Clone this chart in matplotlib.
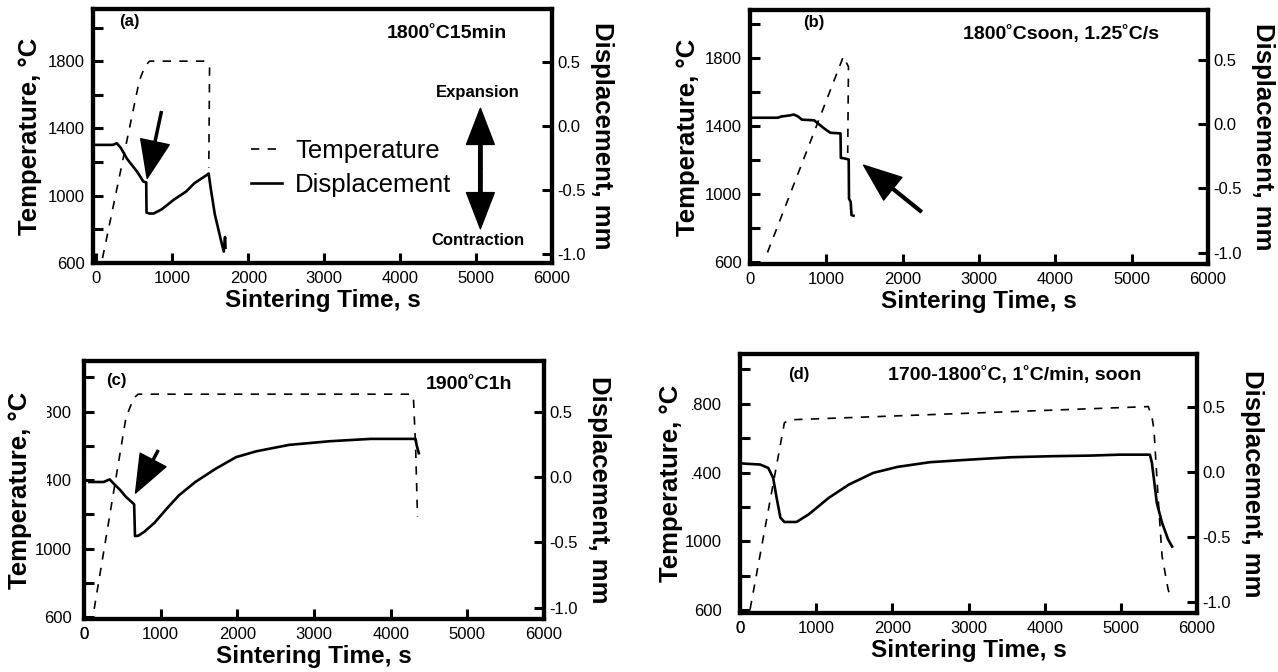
import matplotlib
matplotlib.use("Agg")
import matplotlib.pyplot as plt
from matplotlib.transforms import Bbox, TransformedBbox

plt.rcParams['font.family'] = ['Liberation Sans', 'DejaVu Sans']

## Data ##
# (a) 1800C, 15 min hold
time_a_T = [80, 565, 640, 700, 1430, 1490, 1480]
temp_a = [629, 1684, 1770, 1800, 1800, 1760, 1165]
time_a_D = [-40, 215, 269, 323, 403, 538, 618, 656, 660, 700, 753, 860, 1022, 1183,
            1290, 1452, 1478, 1505, 1559, 1640, 1677, 1694, 1700]
disp_a = [-0.146, -0.146, -0.133, -0.171, -0.255, -0.357, -0.433, -0.439, -0.676, -0.683,
          -0.683, -0.65, -0.574, -0.51, -0.446, -0.382, -0.37, -0.484, -0.688, -0.892,
          -0.981, -0.867, -0.95]

# (b) 1800C, no hold, 1.25 C/s
time_b_T = [229, 1223, 1290, 1280]
temp_b = [658, 1810, 1750, 1243]
time_b_D = [0, 362, 415, 521, 574, 628, 681, 840, 894, 973, 1053, 1186, 1190, 1223,
            1293, 1297, 1319, 1330, 1356]
disp_b = [0.05, 0.05, 0.06, 0.068, 0.075, 0.06, 0.035, 0.03, 0.004, -0.034, -0.067,
          -0.072, -0.263, -0.265, -0.275, -0.58, -0.606, -0.708, -0.713]

# (c) 1900C, 1 h hold
time_c_T = [133, 548, 650, 707, 4271, 4298, 4325, 4350]
temp_c = [647, 1767, 1880, 1902, 1902, 1870, 1600, 1185]
time_c_D = [70, 255, 335, 388, 468, 548, 654, 665, 707, 787, 920, 1080, 1239, 1452,
            1718, 1984, 2250, 2676, 3207, 3739, 4324, 4340, 4367]
disp_c = [-0.036, -0.036, -0.016, -0.049, -0.095, -0.151, -0.207, -0.451, -0.449, -0.418,
          -0.349, -0.24, -0.138, -0.036, 0.066, 0.155, 0.2, 0.249, 0.277, 0.295, 0.295,
          0.244, 0.185]

# (d) 1700-1800C at 1 C/min, no hold
time_d_T = [133, 583, 650, 5360, 5408, 5435, 5488, 5541, 5620, 5657]
temp_d = [606, 1690, 1707, 1784, 1726, 1649, 1263, 915, 722, 664]
time_d_D = [40, 265, 371, 435, 477, 530, 583, 742, 901, 1167, 1432, 1750, 2068, 2492,
            3022, 3552, 4083, 4613, 4984, 5382, 5408, 5435, 5472, 5541, 5620, 5673]
disp_d = [0.063, 0.055, 0.029, -0.047, -0.188, -0.353, -0.386, -0.386, -0.328, -0.2,
          -0.098, -0.009, 0.037, 0.073, 0.093, 0.111, 0.119, 0.124, 0.131, 0.131, 0.068,
          -0.06, -0.239, -0.392, -0.519, -0.575]

x_ticks = [0, 1000, 2000, 3000, 4000, 5000, 6000]
temp_ticks = [600, 800, 1000, 1200, 1400, 1600, 1800, 2000]
temp_labels = ['600', '', '1000', '', '1400', '', '1800', '']
disp_ticks = [-1.0, -0.5, 0.0, 0.5]
disp_labels = ['-1.0', '-0.5', '0.0', '0.5']

W, H = 1278, 672
fig = plt.figure(figsize=(W / 100, H / 100), dpi=100)


def panel(box, xlim, tlim, dlim, ylab_x, y2lab_x, lpad):
    l, t, r, b = box
    ax = fig.add_axes([l / W, 1 - b / H, (r - l) / W, (b - t) / H])
    ax2 = ax.twinx()
    ax.set_xlim(xlim)
    ax.set_ylim(tlim)
    ax2.set_ylim(dlim)
    ax.set_xticks(x_ticks)
    ax.set_yticks(temp_ticks, temp_labels)
    ax2.set_yticks(disp_ticks, disp_labels)
    ax.tick_params(direction='in', width=2.2, length=7, labelsize=12, pad=lpad)
    ax.tick_params(axis='x', pad=6)
    ax2.tick_params(direction='in', width=2.2, length=7, labelsize=12, pad=4)
    for a in (ax, ax2):
        for s in a.spines.values():
            s.set_linewidth(3)
    ax.set_xlabel('Sintering Time, s', fontsize=17.5, fontweight='bold', labelpad=2)
    ax.set_ylabel('Temperature, °C', fontsize=18.5, fontweight='bold', va='center')
    ax.yaxis.set_label_coords(ylab_x, 0.5)
    ax2.set_ylabel('Displacement, mm', fontsize=18.5, fontweight='bold',
                   rotation=-90, va='center')
    ax2.yaxis.set_label_coords(y2lab_x, 0.5)
    return ax, ax2


def temp_line(ax, x, y):
    return ax.plot(x, y, color='k', lw=1.2, linestyle=(0, (5, 5)))[0]


def disp_line(ax, x, y):
    return ax.plot(x, y, color='k', lw=1.9, solid_joinstyle='round')[0]


def big_arrow(ax, tail, tip, hw=21, hl=27, w=1.5):
    ax.annotate('', xy=tip, xytext=tail, xycoords='axes fraction',
                arrowprops=dict(width=w, headwidth=hw, headlength=hl, color='k', shrink=0))


def zero_label(ax):
    # the 0 tick sits just left of the frame in (c) and (d)
    ax.annotate('0', xy=(0, 0), xycoords=ax.get_xaxis_transform(), xytext=(0, -6),
                textcoords='offset points', ha='center', va='top', fontsize=12,
                annotation_clip=False)


def crop_labels(ax, idx, x_px):
    # scanned original has the left part of some tick labels cut away
    clip = TransformedBbox(Bbox([[x_px / W, 0], [1, 1]]), fig.transFigure)
    ticks = ax.yaxis.get_major_ticks()
    for i in idx:
        ticks[i].label1.set_clip_on(True)
        ticks[i].label1.set_clip_box(clip)


# (a)
ax, ax2 = panel((93, 9, 552, 263), (-45, 6000), (600, 2110), (-1.07, 0.917), -0.137, 1.11, 6)
lt = temp_line(ax, time_a_T, temp_a)
ld = disp_line(ax2, time_a_D, disp_a)
ax2.legend([lt, ld], ['Temperature', 'Displacement'], loc='center left',
           bbox_to_anchor=(0.345, 0.375), frameon=False, fontsize=18.5, handlelength=1.2,
           handletextpad=0.5, labelspacing=0.4, borderpad=0, borderaxespad=0)
ax.text(0.056, 0.95, '(a)', transform=ax.transAxes, fontsize=12, fontweight='bold', va='center')
ax.text(0.77, 0.905, '1800˚C15min', transform=ax.transAxes, fontsize=14, fontweight='bold',
        ha='center', va='center')
ax.text(0.839, 0.673, 'Expansion', transform=ax.transAxes, fontsize=12, fontweight='bold',
        ha='center', va='center')
ax.text(0.839, 0.087, 'Contraction', transform=ax.transAxes, fontsize=12, fontweight='bold',
        ha='center', va='center')
big_arrow(ax, (0.149, 0.596), (0.118, 0.333))
big_arrow(ax, (0.844, 0.372), (0.844, 0.609), hw=20, hl=26, w=2.5)
big_arrow(ax, (0.844, 0.372), (0.844, 0.135), hw=20, hl=26, w=2.5)

# (b)
ax, ax2 = panel((750, 10, 1208, 264), (0, 6000), (590, 2084), (-1.089, 0.889), -0.135, 1.12, 6)
temp_line(ax, time_b_T, temp_b)
disp_line(ax2, time_b_D, disp_b)
ax.text(0.117, 0.95, '(b)', transform=ax.transAxes, fontsize=12, fontweight='bold', va='center')
ax.text(0.68, 0.906, '1800˚Csoon, 1.25˚C/s', transform=ax.transAxes, fontsize=14,
        fontweight='bold', ha='center', va='center')
big_arrow(ax, (0.374, 0.206), (0.248, 0.389), w=2)

# (c)
ax, ax2 = panel((84, 361, 544, 619), (70, 6000), (588, 2096), (-1.088, 0.893), -0.139, 1.12, 9)
temp_line(ax, time_c_T, temp_c)
disp_line(ax2, time_c_D, disp_c)
ax.text(0.049, 0.923, '(c)', transform=ax.transAxes, fontsize=12, fontweight='bold', va='center')
ax.text(0.836, 0.91, '1900˚C1h', transform=ax.transAxes, fontsize=14, fontweight='bold',
        ha='center', va='center')
big_arrow(ax, (0.161, 0.653), (0.112, 0.488))
zero_label(ax)
crop_labels(ax, [4, 6], 47)

# (d)
ax, ax2 = panel((740, 354, 1197, 613), (35, 6000), (583, 2090), (-1.085, 0.904), -0.15, 1.12, 13)
temp_line(ax, time_d_T, temp_d)
disp_line(ax2, time_d_D, disp_d)
ax.text(0.105, 0.919, '(d)', transform=ax.transAxes, fontsize=12, fontweight='bold', va='center')
ax.text(0.6, 0.919, '1700-1800˚C, 1˚C/min, soon', transform=ax.transAxes, fontsize=14,
        fontweight='bold', ha='center', va='center')
zero_label(ax)
crop_labels(ax, [4, 6], 692)

fig.savefig('out.png', dpi=100)
